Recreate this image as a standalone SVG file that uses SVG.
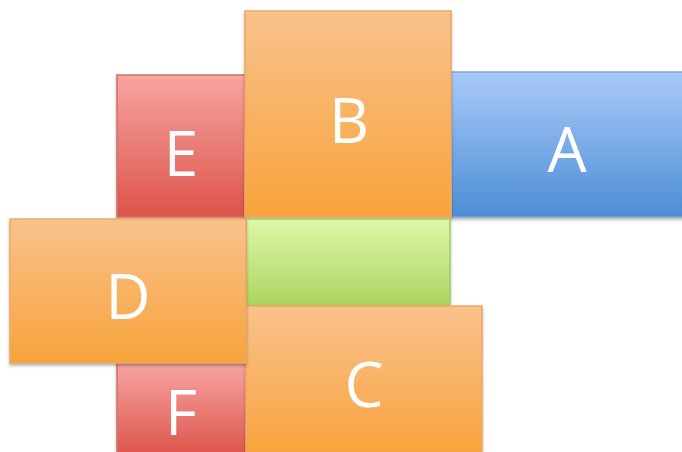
<svg xmlns="http://www.w3.org/2000/svg" width="682" height="452" viewBox="0 0 682 452">
<defs>
<linearGradient id="gO" x1="0" y1="0" x2="0" y2="1"><stop offset="0" stop-color="#F9C28C"/><stop offset="1" stop-color="#F8A33B"/></linearGradient>
<linearGradient id="gR" x1="0" y1="0" x2="0" y2="1"><stop offset="0" stop-color="#F7A5A2"/><stop offset="1" stop-color="#DC5349"/></linearGradient>
<linearGradient id="gB" x1="0" y1="0" x2="0" y2="1"><stop offset="0" stop-color="#A9CAFA"/><stop offset="1" stop-color="#4C8DD5"/></linearGradient>
<linearGradient id="gG" x1="0" y1="0" x2="0" y2="1"><stop offset="0" stop-color="#DEF8A8"/><stop offset="1" stop-color="#ABD35F"/></linearGradient>
<filter id="sh" x="-10%" y="-10%" width="130%" height="130%"><feDropShadow dx="0" dy="2" stdDeviation="1.5" flood-color="#000" flood-opacity="0.3"/></filter>
</defs>
<style>
.o{fill:url(#gO);stroke:#F1A763;stroke-width:1.5}
.r{fill:url(#gR);stroke:#D0706A;stroke-width:1.5}
.b{fill:url(#gB);stroke:#7FA6D8;stroke-width:1.5}
.g{fill:url(#gG);stroke:#A5C96A;stroke-width:1.5}
rect{filter:url(#sh)}
text{font-family:"Open Sans","DejaVu Sans",sans-serif;font-size:62px;fill:#fff;text-anchor:middle}
</style>
<g id="A"><rect class="b" x="451" y="72" width="240" height="145"/><text x="567" y="172">A</text></g>
<g id="E"><rect class="r" x="117" y="75" width="128" height="142"/><text x="181" y="176">E</text></g>
<g id="B"><rect class="o" x="245" y="11" width="206" height="206"/><text x="349" y="143">B</text></g>
<g id="G"><rect class="g" x="246" y="219" width="204" height="88"/></g>
<g id="F"><rect class="r" x="117" y="363" width="130" height="95"/><text x="181" y="435">F</text></g>
<g id="C"><rect class="o" x="246" y="306" width="236" height="152"/><text x="364" y="407">C</text></g>
<g id="D"><rect class="o" x="10" y="219" width="236" height="144"/><text x="128" y="319">D</text></g>
<g id="connectors"></g>
</svg>
